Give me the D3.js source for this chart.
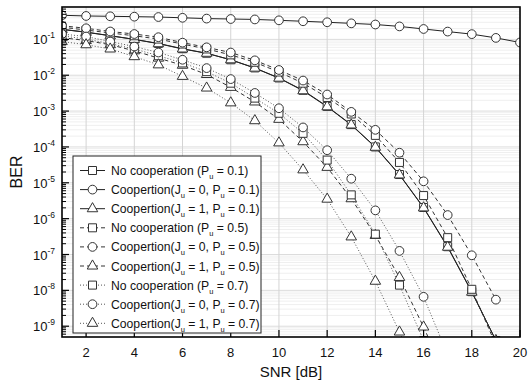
<!DOCTYPE html>
<html><head><meta charset="utf-8">
<script src="https://cdn.jsdelivr.net/npm/d3@7"></script>
<style>body{margin:0;background:#fff}svg{display:block;font-family:"Liberation Sans",Arial,sans-serif}</style>
</head><body><svg id="c" width="532" height="386"></svg>
<script>
// ---- data (BER vs SNR) ----
const snr = d3.range(1, 21);
const noCoopP01   = [0.19,0.16,0.127,0.1,0.077,0.055,0.041,0.027,0.016,8.4e-3,3.8e-3,1.35e-3,4.2e-4,1.0e-4,1.7e-5,2.05e-6,1.65e-7,9.2e-9,4e-10];
const coopJ0P01   = [0.47,0.45,0.44,0.43,0.42,0.40,0.38,0.37,0.36,0.34,0.32,0.30,0.28,0.26,0.23,0.195,0.165,0.14,0.11,0.082];
const coopJ1P01   = [0.19,0.158,0.126,0.1,0.076,0.054,0.041,0.027,0.0158,8.3e-3,3.7e-3,1.32e-3,4.1e-4,9.8e-5,1.66e-5,2.0e-6,1.6e-7,8.9e-9,4e-10];
const noCoopP05   = [0.219,0.182,0.151,0.126,0.102,0.074,0.054,0.037,0.023,0.0123,6.0e-3,2.4e-3,8.3e-4,2.1e-4,3.7e-5,4.4e-6,2.95e-7,1.07e-8,3e-10];
const coopJ0P05   = [0.24,0.204,0.166,0.141,0.115,0.081,0.060,0.043,0.026,0.014,7.1e-3,2.9e-3,9.5e-4,3.0e-4,6.9e-5,1.1e-5,1.26e-6,9.5e-8,5.5e-9];
const coopJ1P05   = [0.112,0.093,0.071,0.048,0.030,0.019,0.0105,4.6e-3,1.8e-3,5.9e-4,1.4e-4,2.7e-5,3.6e-6,3.4e-7,2.3e-8,9.5e-10,3e-11];
const noCoopP07   = [0.126,0.102,0.076,0.054,0.035,0.022,0.0126,6.0e-3,2.3e-3,8.7e-4,2.4e-4,4.3e-5,4.6e-6,3.7e-7,1.4e-8,4e-10];
const coopJ0P07   = [0.141,0.12,0.087,0.063,0.043,0.027,0.0158,7.8e-3,3.2e-3,1.2e-3,3.5e-4,8.1e-5,1.3e-5,1.7e-6,1.26e-7,6.6e-9,1.6e-10];
const coopJ1P07   = [0.087,0.071,0.054,0.033,0.0195,9.3e-3,4.4e-3,1.7e-3,5.4e-4,1.3e-4,2.3e-5,3.5e-6,3.1e-7,1.8e-8,6.9e-10,2e-11];

const xTicks = [2,4,6,8,10,12,14,16,18,20];
const yExps  = [-1,-2,-3,-4,-5,-6,-7,-8,-9];
const puLabels = ["0.1","0.5","0.7"];

const series = [
  {values:noCoopP01, style:"solid",  marker:"square",   ju:null, pu:puLabels[0]},
  {values:coopJ0P01, style:"solid",  marker:"circle",   ju:"0",  pu:puLabels[0]},
  {values:coopJ1P01, style:"solid",  marker:"triangle", ju:"1",  pu:puLabels[0]},
  {values:noCoopP05, style:"dashed", marker:"square",   ju:null, pu:puLabels[1]},
  {values:coopJ0P05, style:"dashed", marker:"circle",   ju:"0",  pu:puLabels[1]},
  {values:coopJ1P05, style:"dashed", marker:"triangle", ju:"1",  pu:puLabels[1]},
  {values:noCoopP07, style:"dotted", marker:"square",   ju:null, pu:puLabels[2]},
  {values:coopJ0P07, style:"dotted", marker:"circle",   ju:"0",  pu:puLabels[2]},
  {values:coopJ1P07, style:"dotted", marker:"triangle", ju:"1",  pu:puLabels[2]}
];

// ---- layout ----
const L = 62, R = 520, T = 7, B = 337;
const svg = d3.select("#c");
const x = d3.scaleLinear().domain([1, 20]).range([L, R]);
const y = d3.scaleLog().domain([5e-10, 0.8]).range([B, T]);

const styles = {
  solid:  {dash:null,  color:"#222", w:1},
  dashed: {dash:"4,3", color:"#333", w:1},
  dotted: {dash:"1,2", color:"#555", w:1}
};
const symType = {circle:d3.symbolCircle, square:d3.symbolSquare, triangle:d3.symbolTriangle};
const symSize = {circle:60, square:64, triangle:48};

svg.append("rect").attr("x",0).attr("y",0).attr("width",532).attr("height",386).attr("fill","#fff");

// grid
const minorVals = [];
for (let e = -10; e <= 0; e++) for (let m = 2; m <= 9; m++) {
  const v = m * Math.pow(10, e);
  if (v > 5e-10 && v < 0.8) minorVals.push(v);
}
const g = svg.append("g");
g.selectAll(".mg").data(minorVals).join("line")
  .attr("x1",L).attr("x2",R).attr("y1",d=>y(d)).attr("y2",d=>y(d))
  .attr("stroke","#efefef").attr("stroke-width",1);
g.selectAll(".Mg").data(yExps).join("line")
  .attr("x1",L).attr("x2",R).attr("y1",d=>y(Math.pow(10,d))).attr("y2",d=>y(Math.pow(10,d)))
  .attr("stroke","#dcdcdc").attr("stroke-width",1);
g.selectAll(".vg").data(xTicks.filter(t=>t<20)).join("line")
  .attr("x1",d=>x(d)).attr("x2",d=>x(d)).attr("y1",T).attr("y2",B)
  .attr("stroke","#d4d4d4").attr("stroke-width",1);

// clip
svg.append("clipPath").attr("id","clip").append("rect")
  .attr("x",L).attr("y",T).attr("width",R-L).attr("height",B-T);

const plot = svg.append("g").attr("clip-path","url(#clip)");
const line = d3.line().x((d,i)=>x(snr[i])).y(d=>y(d));
series.forEach(s => {
  const st = styles[s.style];
  plot.append("path").attr("d", line(s.values)).attr("fill","none")
    .attr("stroke", st.color).attr("stroke-width", st.w)
    .attr("stroke-dasharray", st.dash);
});
series.forEach(s => {
  plot.selectAll(null).data(s.values).join("path")
    .attr("transform",(d,i)=>`translate(${x(snr[i])},${y(d)})`)
    .attr("d", d3.symbol().type(symType[s.marker]).size(symSize[s.marker]))
    .attr("fill","#fff").attr("stroke","#333").attr("stroke-width",1);
});

// ticks
const ax = svg.append("g").attr("stroke","#000");
ax.selectAll(".yM").data(yExps).join("line")
  .attr("x1",L).attr("x2",L+7).attr("y1",d=>y(Math.pow(10,d))).attr("y2",d=>y(Math.pow(10,d)))
  .attr("stroke-width",1.2);
ax.selectAll(".ym").data(minorVals).join("line")
  .attr("x1",L).attr("x2",L+4).attr("y1",d=>y(d)).attr("y2",d=>y(d)).attr("stroke-width",1);
ax.selectAll(".xM").data(xTicks).join("line")
  .attr("x1",d=>x(d)).attr("x2",d=>x(d)).attr("y1",B).attr("y2",B-7).attr("stroke-width",1.2);

// frame
svg.append("rect").attr("x",L).attr("y",T).attr("width",R-L).attr("height",B-T)
  .attr("fill","none").attr("stroke","#000").attr("stroke-width",1.6);

// tick labels
svg.selectAll(".xl").data(xTicks).join("text")
  .attr("x",d=>x(d)).attr("y",B+20).attr("text-anchor","middle")
  .attr("font-size",13).attr("fill","#111").text(d=>d);
const yl = svg.selectAll(".yl").data(yExps).join("text")
  .attr("x",L-7).attr("y",d=>y(Math.pow(10,d))+5).attr("text-anchor","end")
  .attr("font-size",13).attr("fill","#111");
yl.append("tspan").text("10");
yl.append("tspan").attr("dy",-6).attr("font-size",8.5).text(d=>"-"+(-d));

// axis titles
svg.append("text").attr("x",(L+R)/2).attr("y",377).attr("text-anchor","middle")
  .attr("font-size",15).attr("fill","#111").text("SNR [dB]");
svg.append("text").attr("transform",`translate(22,${(T+B)/2}) rotate(-90)`)
  .attr("text-anchor","middle").attr("font-size",16).attr("fill","#111").text("BER");

// legend
const lg = svg.append("g");
lg.append("rect").attr("x",73).attr("y",156).attr("width",188).attr("height",177)
  .attr("fill","#fff").attr("stroke","#222").attr("stroke-width",1);
series.forEach((s,i) => {
  const cy = 170.5 + i*19.1;
  const st = styles[s.style];
  lg.append("line").attr("x1",80).attr("x2",105).attr("y1",cy).attr("y2",cy)
    .attr("stroke",st.color).attr("stroke-width",st.w).attr("stroke-dasharray",st.dash);
  lg.append("path").attr("transform",`translate(92.5,${cy})`)
    .attr("d", d3.symbol().type(symType[s.marker]).size(symSize[s.marker]))
    .attr("fill","#fff").attr("stroke","#333");
  const t = lg.append("text").attr("x",111).attr("y",cy+4.5).attr("font-size",12.2).attr("fill","#111");
  if (s.ju === null) {
    t.append("tspan").text("No cooperation (P");
  } else {
    t.append("tspan").text("Coopertion(J");
    t.append("tspan").attr("dy",4).attr("font-size",7.5).text("u");
    t.append("tspan").attr("dy",-4).text(" = " + s.ju + ", P");
  }
  t.append("tspan").attr("dy",4).attr("font-size",7.5).text("u");
  t.append("tspan").attr("dy",-4).text(" = " + s.pu + ")");
});
</script></body></html>
